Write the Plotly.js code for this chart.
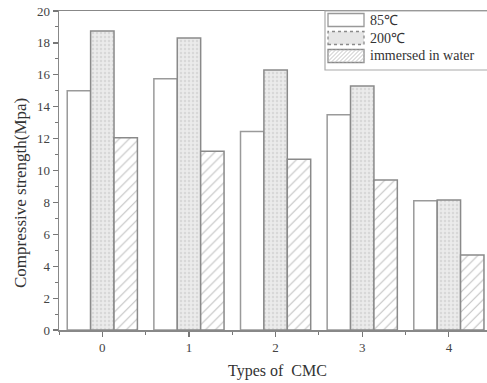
<!DOCTYPE html>
<html>
<head>
<meta charset="utf-8">
<script src="https://cdn.plot.ly/plotly-3.0.1.min.js"></script>
<style>html,body{margin:0;padding:0;background:#fff;}#chart{width:487px;height:383px;}</style>
</head>
<body>
<div id="chart"></div>
<script>
var categories = ['0', '1', '2', '3', '4'];
var seriesNames = ['85\u2103', '200\u2103', 'immersed in water'];
var values85 = [15.0, 15.75, 12.45, 13.5, 8.1];
var values200 = [18.75, 18.3, 16.3, 15.3, 8.15];
var valuesWater = [12.05, 11.2, 10.7, 9.4, 4.7];
var yTickVals = [0, 2, 4, 6, 8, 10, 12, 14, 16, 18, 20];
var xTitle = 'Types of&nbsp;&nbsp;CMC';
var yTitle = 'Compressive strength(Mpa)';

var FONT = '"Liberation Serif", "Times New Roman", serif';
var xs = categories.map(Number);

var traces = [
  {type: 'bar', x: xs, y: values85, name: seriesNames[0],
   marker: {color: '#ffffff', line: {color: '#9a9a9a', width: 1.5}}},
  {type: 'bar', x: xs, y: values200, name: seriesNames[1],
   marker: {color: '#e6e6e6', line: {color: '#8a8a8a', width: 1.5},
            pattern: {shape: '.', fgcolor: '#d8d8d8', bgcolor: '#ebebeb', size: 4, solidity: 0.3}}},
  {type: 'bar', x: xs, y: valuesWater, name: seriesNames[2],
   marker: {color: '#ffffff', line: {color: '#8a8a8a', width: 1.5},
            pattern: {shape: '/', fgcolor: '#c0c0c0', bgcolor: '#ffffff', size: 7, solidity: 0.15}}}
];

// plot area in pixels
var L = 59, R = 487, T = 11, B = 330;
function px(x){ return (x - L) / (R - L); }
function py(y){ return (B - y) / (B - T); }

var shapes = [];
var annotations = [];
// legend frame
shapes.push({type: 'rect', xref: 'paper', yref: 'paper', x0: px(325), x1: px(492), y0: py(70), y1: py(11),
  line: {color: '#aaaaaa', width: 1.2}, fillcolor: 'rgba(255,255,255,0)', layer: 'above'});
var rows = [20, 38, 56];
var sx0 = 328, sx1 = 364, sh = 13;
shapes.push({type: 'rect', xref: 'paper', yref: 'paper', x0: px(sx0), x1: px(sx1), y0: py(rows[0] + sh/2), y1: py(rows[0] - sh/2),
  line: {color: '#999999', width: 1.3}, fillcolor: '#ffffff', layer: 'above'});
shapes.push({type: 'rect', xref: 'paper', yref: 'paper', x0: px(sx0), x1: px(sx1), y0: py(rows[1] + sh/2), y1: py(rows[1] - sh/2),
  line: {color: '#8a8a8a', width: 1.3, dash: 'dot'}, fillcolor: '#e6e6e6', layer: 'above'});
var y3t = rows[2] - sh/2, y3b = rows[2] + sh/2;
shapes.push({type: 'rect', xref: 'paper', yref: 'paper', x0: px(sx0), x1: px(sx1), y0: py(y3b), y1: py(y3t),
  line: {color: '#8a8a8a', width: 1.3}, fillcolor: '#ffffff', layer: 'above'});
for (var s = sx0 - sh; s < sx1; s += 4) {
  var ax = s, ay = y3b, bx = s + sh, by = y3t;
  if (ax < sx0) { ay = y3b - (sx0 - ax); ax = sx0; }
  if (bx > sx1) { by = y3t + (bx - sx1); bx = sx1; }
  if (bx <= ax) continue;
  shapes.push({type: 'line', xref: 'paper', yref: 'paper', x0: px(ax), y0: py(ay), x1: px(bx), y1: py(by),
    line: {color: '#c4c4c4', width: 1}, layer: 'above'});
}
for (var i = 0; i < 3; i++) {
  annotations.push({xref: 'paper', yref: 'paper', x: px(368), y: py(rows[i]), xanchor: 'left', yanchor: 'middle',
    text: seriesNames[i], showarrow: false, font: {family: FONT, size: 14, color: '#333333'}});
}
// y axis title
annotations.push({xref: 'paper', yref: 'paper', x: px(20), y: py(193), xanchor: 'center', yanchor: 'middle',
  text: yTitle, textangle: -90, showarrow: false, font: {family: FONT, size: 17, color: '#333333'}});
// x axis title
annotations.push({xref: 'paper', yref: 'paper', x: px(277), y: py(371), xanchor: 'center', yanchor: 'middle',
  text: xTitle, showarrow: false, font: {family: FONT, size: 16, color: '#333333'}});

var layout = {
  width: 487, height: 383,
  margin: {l: L, r: 487 - R, t: T, b: 383 - B},
  paper_bgcolor: '#ffffff', plot_bgcolor: '#ffffff',
  showlegend: false,
  barmode: 'group', bargap: 0.19, bargroupgap: 0,
  font: {family: FONT, color: '#333333'},
  xaxis: {
    range: [-0.5, 4.44], tickvals: xs, ticktext: categories,
    showgrid: false, zeroline: false,
    showline: true, linecolor: '#888888', linewidth: 1.5, mirror: true,
    ticks: 'outside', ticklen: 5, tickwidth: 1.2, tickcolor: '#777777',
    minor: {dtick: 0.5, tick0: 0.5, ticks: 'outside', ticklen: 3, tickcolor: '#777777', tickwidth: 1},
    tickfont: {family: FONT, size: 13, color: '#444444'}
  },
  yaxis: {
    range: [0, 20], tickvals: yTickVals,
    showgrid: false, zeroline: false,
    showline: true, linecolor: '#888888', linewidth: 1.5,
    ticks: 'outside', ticklen: 5, tickwidth: 1.2, tickcolor: '#777777',
    minor: {dtick: 1, ticks: 'outside', ticklen: 3, tickcolor: '#777777', tickwidth: 1},
    tickfont: {family: FONT, size: 13, color: '#444444'}
  },
  shapes: shapes,
  annotations: annotations
};

Plotly.newPlot('chart', traces, layout, {displayModeBar: false, staticPlot: true});
</script>
</body>
</html>
